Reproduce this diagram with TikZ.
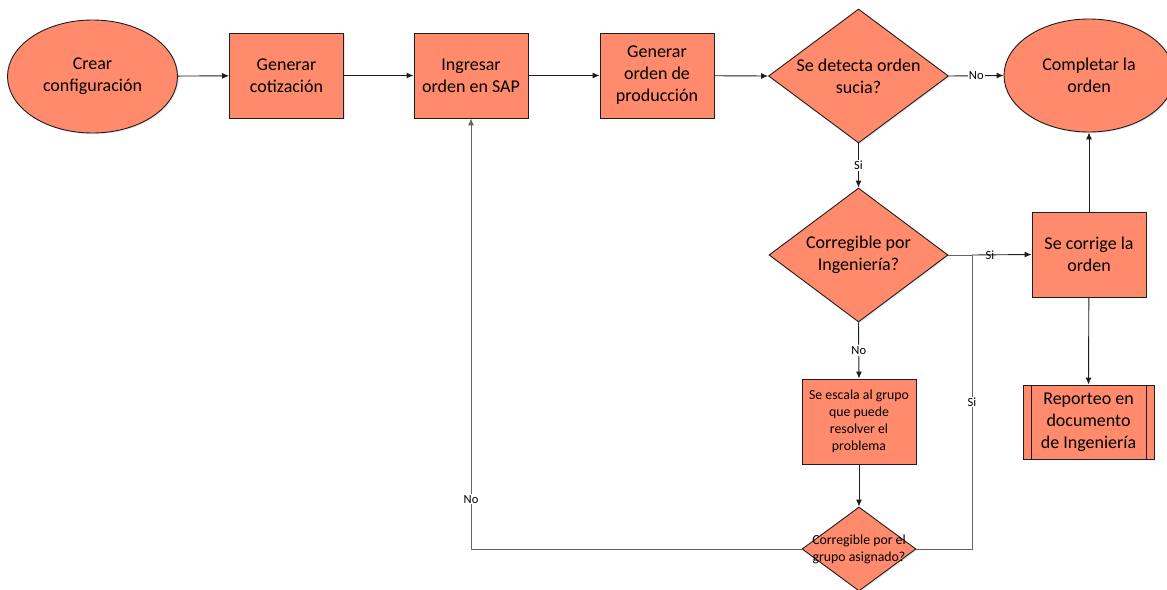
\documentclass[tikz,border=0pt]{standalone}
\usepackage{fontspec}
\setmainfont{Carlito}
\usetikzlibrary{arrows.meta,shapes.geometric,shadows}

\definecolor{boxfill}{RGB}{255,138,108}
\definecolor{edgeline}{RGB}{30,30,30}
\definecolor{loopline}{RGB}{100,100,100}

\tikzset{
  shape base/.style={draw=edgeline, line width=0.9pt, fill=boxfill, inner sep=0pt,
    drop shadow={shadow xshift=1.2pt, shadow yshift=-1.2pt, fill=black, opacity=0.10}},
  bigtext/.style={font=\fontsize{18}{22}\selectfont, align=center, text=black},
  smalltext/.style={font=\fontsize{13.8}{17}\selectfont, align=center, text=black},
  terminal/.style={shape base, ellipse, minimum width=170pt, minimum height=113pt, bigtext},
  process/.style={shape base, rectangle, minimum width=114pt, minimum height=85pt, bigtext},
  decision/.style={shape base, diamond, aspect=1},
  predef/.style={shape base, rectangle, minimum width=131pt, minimum height=74pt, bigtext},
  flow/.style={draw=edgeline, line width=0.9pt, -{Latex[length=7pt,width=6pt]}},
  loopflow/.style={draw=loopline, line width=1pt, -{Latex[length=7pt,width=6pt]}},
  plainline/.style={draw=loopline, line width=1pt},
  edgelabel/.style={font=\fontsize{12.5}{14}\selectfont, text=black, inner sep=1pt, fill=white},
  edgelabelclear/.style={font=\fontsize{12.5}{14}\selectfont, text=black, inner sep=1pt},
}

\begin{document}
\begin{tikzpicture}[x=1pt, y=-1pt]
\useasboundingbox (0,0) rectangle (1167,589);

% top row
\node[terminal] (crear) at (92.5,76.5) {Crear\\configuración};
\node[process] (cotiz) at (286.5,75.5) {Generar\\cotización};
\node[process] (sap) at (471,75.5) {Ingresar\\orden en SAP};
\node[process] (prod) at (657,75.5) {Generar\\orden de\\producción};
\node[decision, minimum width=180pt, minimum height=134pt] (sucia) at (858.5,76) {};
\node[bigtext] (suciatxt) at (sucia.center) {Se detecta orden\\sucia?};
\node[terminal] (completar) at (1089,75.5) {Completar la\\orden};

% right column
\node[decision, minimum width=179pt, minimum height=134pt] (ing) at (858.5,255) {};
\node[bigtext] (ingtxt) at (ing.center) {Corregible por\\Ingeniería?};
\node[process] (corrige) at (1089,254.5) {Se corrige la\\orden};
\node[process, smalltext] (escala) at (859,421.5) {Se escala al grupo\\que puede\\resolver el\\problema};
\node[predef] (reporte) at (1088.5,422) {Reporteo en\\documento\\de Ingeniería};
\draw[edgeline, line width=0.9pt] ([xshift=9pt]reporte.north west) -- ([xshift=9pt]reporte.south west);
\draw[edgeline, line width=0.9pt] ([xshift=-8pt]reporte.north east) -- ([xshift=-8pt]reporte.south east);
\node[decision, minimum width=114pt, minimum height=84pt] (grupo) at (859,549) {};
\node[smalltext] (grupotxt) at (grupo.center) {Corregible por el\\grupo asignado?};

% junction where the group's "Si" joins the engineering "Si"
\coordinate (join) at (972,255);

% connectors
\draw[flow] (crear) -- (cotiz);
\draw[flow] (cotiz) -- (sap);
\draw[flow] (sap) -- (prod);
\draw[flow] (prod) -- (sucia.west);
\draw[flow] (sucia.east) -- node[edgelabel] {No} (completar.west);
\draw[flow] (sucia.south) -- node[edgelabel] {Si} (ing.north);
\draw[plainline] (ing.east) -- (join);
\draw[flow] (join) -- node[edgelabelclear, pos=0.3] {Si} (corrige.west);
\draw[flow] (ing.south) -- node[edgelabel] {No} (escala.north);
\draw[flow] (escala) -- (grupo.north);
\draw[plainline] (grupo.east) -| node[edgelabel, pos=0.75] {Si} (join);
\draw[loopflow] (grupo.west) -| node[edgelabel, pos=0.558] {No} (sap.south);
\draw[flow] (corrige) -- (completar.south);
\draw[flow] (corrige) -- (reporte.north);
\end{tikzpicture}
\end{document}
